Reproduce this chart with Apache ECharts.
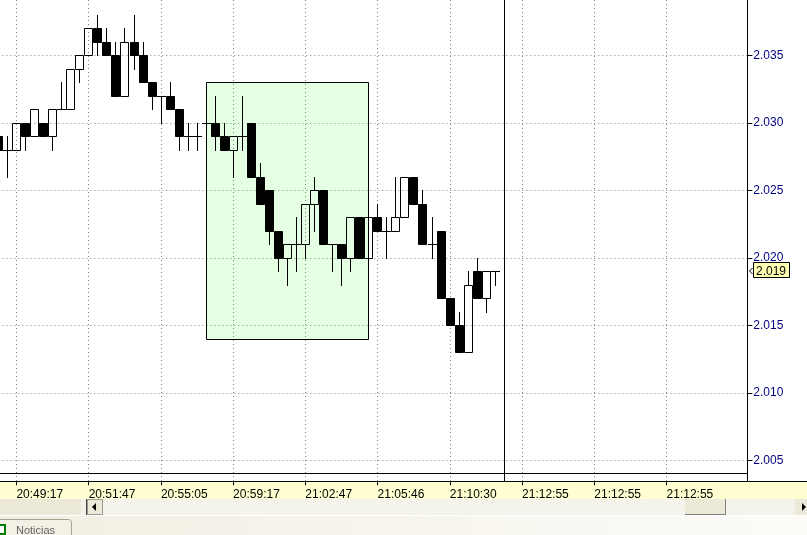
<!DOCTYPE html>
<html><head><meta charset="utf-8">
<style>html,body{margin:0;padding:0;background:#fff}#c{width:807px;height:535px}</style>
<script src="https://cdn.jsdelivr.net/npm/echarts@6/dist/echarts.min.js"></script>
</head><body><div id="c"></div>
<script>
const tickLabels=['20:49:17','20:51:47','20:55:05','20:59:17','21:02:47','21:05:46','21:10:30','21:12:55','21:12:55','21:12:55'];
const opens =[2.029,2.028,2.028,2.030,2.029,2.030,2.029,2.031,2.031,2.034,2.035,2.037,2.036,2.035,2.032,2.036,2.035,2.033,2.032,2.032,2.031,2.029,2.029,2.030,2.030,2.029,2.028,2.029,2.030,2.026,2.025,2.022,2.020,2.021,2.021,2.024,2.025,2.021,2.021,2.020,2.023,2.020,2.023,2.022,2.022,2.023,2.026,2.024,2.021,2.022,2.017,2.015,2.013,2.019,2.017,2.019];
const closes=[2.028,2.028,2.030,2.029,2.031,2.029,2.031,2.031,2.034,2.035,2.037,2.036,2.035,2.032,2.036,2.035,2.033,2.032,2.032,2.031,2.029,2.029,2.029,2.030,2.029,2.028,2.029,2.029,2.026,2.024,2.022,2.020,2.021,2.021,2.024,2.025,2.021,2.021,2.020,2.023,2.020,2.023,2.022,2.022,2.023,2.026,2.024,2.021,2.021,2.017,2.015,2.013,2.018,2.017,2.019,2.019];
const lows  =[2.028,2.026,2.028,2.028,2.029,2.029,2.028,2.031,2.031,2.033,2.035,2.035,2.035,2.032,2.032,2.034,2.033,2.031,2.030,2.031,2.028,2.028,2.028,2.030,2.028,2.028,2.026,2.028,2.026,2.024,2.021,2.019,2.018,2.019,2.020,2.022,2.021,2.019,2.018,2.019,2.020,2.020,2.022,2.020,2.022,2.023,2.024,2.021,2.020,2.017,2.015,2.013,2.013,2.017,2.016,2.018];
const highs =[2.029,2.029,2.030,2.030,2.031,2.030,2.031,2.033,2.034,2.035,2.037,2.038,2.037,2.036,2.037,2.038,2.036,2.033,2.032,2.033,2.031,2.030,2.030,2.030,2.032,2.030,2.029,2.032,2.030,2.027,2.025,2.022,2.021,2.023,2.024,2.026,2.025,2.021,2.021,2.023,2.023,2.023,2.024,2.023,2.026,2.026,2.026,2.025,2.023,2.022,2.017,2.016,2.019,2.020,2.019,2.019];
const priceTicks=[2.005,2.010,2.015,2.020,2.025,2.030,2.035];
const boxFrom=23, boxTo=41, boxTop=2.033, boxBottom=2.014, cursorBar=56, slotCount=84, firstTick=2, tickStep=8;
const categories=[];
for(let i=0;i<slotCount;i++){
  const k=(i-firstTick)/tickStep;
  categories.push(Number.isInteger(k)&&k>=0&&k<tickLabels.length?tickLabels[k]:'');
}
const isTick=i=>categories[i]!=='';
const rows=opens.map((o,i)=>[i,o,closes[i],lows[i],highs[i]]);
const UI='"Liberation Sans",Arial,sans-serif';
const snapX=v=>Math.floor(v+0.22)+0.5;
const snapY=v=>Math.floor(v+0.02)+0.5;
const ink={stroke:'#000',lineWidth:1};
function renderCandle(params,api){
 const i=api.value(0),o=api.value(1),c=api.value(2),l=api.value(3),h=api.value(4);
 const x=snapX(api.coord([i,o])[0]);
 const yOf=v=>snapY(api.coord([i,v])[1]);
 const top=yOf(Math.max(o,c)),bot=yOf(Math.min(o,c)),yl=yOf(l),yh=yOf(h);
 const kids=[];
 if(yh<top)kids.push({type:'line',shape:{x1:x,y1:yh-.5,x2:x,y2:top},style:ink});
 if(yl>bot)kids.push({type:'line',shape:{x1:x,y1:bot,x2:x,y2:yl+.5},style:ink});
 if(o===c)kids.push({type:'line',shape:{x1:x-4.5,y1:top,x2:x+4.5,y2:top},style:ink});
 else kids.push({type:'rect',shape:{x:x-4,y:top,width:8,height:bot-top},style:{stroke:'#000',lineWidth:1,fill:c<o?'#000':'rgba(0,0,0,0)'}});
 return {type:'group',children:kids};
}
function renderBox(params,api){
 const a=api.coord([api.value(0),api.value(1)]),b=api.coord([api.value(2),api.value(3)]);
 const x=snapX(a[0]),y=snapY(a[1]);
 return {type:'rect',shape:{x:x,y:y,width:snapX(b[0])-x,height:snapY(b[1])-y},style:{fill:'rgba(0,255,0,0.106)',stroke:'#000',lineWidth:1}};
}
function renderCursor(params,api){
 const x=snapX(api.coord([api.value(0),2.02])[0]);
 const s=params.coordSys;
 return {type:'line',shape:{x1:x,y1:s.y,x2:x,y2:s.y+s.height},style:ink};
}
const chart=echarts.init(document.getElementById('c'),null,{renderer:'canvas'});
const dotted={color:'#808080',width:1,type:[1,3]};
const chrome=[
 {type:'rect',z:-1,shape:{x:0,y:481,width:807,height:18},style:{fill:'#FFFFD2'}},
 {type:'rect',z:3,shape:{x:0,y:481,width:807,height:1},style:{fill:'#000'}},
 {type:'rect',z:3,shape:{x:0,y:473,width:747,height:1},style:{fill:'#000'}},
 {type:'rect',z:-1,shape:{x:0,y:499,width:88,height:16},style:{fill:'#ECE9D8'}},
 {type:'rect',z:-1,shape:{x:88,y:499,width:719,height:16},style:{fill:'#F5F4EC'}},
 {type:'rect',z:-1,shape:{x:81,y:499,width:6,height:16},style:{fill:'#F4F2E6'}},
 {type:'rect',z:-1,shape:{x:86,y:499,width:1,height:16},style:{fill:'#404040'}},
 {type:'rect',z:-1,shape:{x:87.5,y:499.5,width:15,height:15},style:{fill:'#ECE9D8',stroke:'#9a9a90',lineWidth:1}},
 {type:'polygon',z:-1,shape:{points:[[92,507],[96,503],[96,511]]},style:{fill:'#000'}},
 {type:'rect',z:-1,shape:{x:685,y:499,width:40,height:16},style:{fill:'#ECE9D8'}},
 {type:'rect',z:-1,shape:{x:685,y:514,width:41,height:1},style:{fill:'#808080'}},
 {type:'rect',z:-1,shape:{x:725,y:499,width:1,height:16},style:{fill:'#808080'}},
 {type:'rect',z:-1,shape:{x:795,y:499,width:12,height:16},style:{fill:'#ECE9D8'}},
 {type:'polygon',z:-1,shape:{points:[[806,507],[802,503],[802,511]]},style:{fill:'#000'}},
 {type:'rect',z:-1,shape:{x:0,y:516,width:807,height:19},style:{fill:new echarts.graphic.LinearGradient(0,0,1,0,[{offset:0,color:'#F1EFE2'},{offset:1,color:'#FCFBF8'}])}},
 {type:'rect',z:-1,shape:{x:0,y:515,width:807,height:1},style:{fill:'#fff'}},
 {type:'rect',z:-1,shape:{x:-6.5,y:519.5,width:78,height:24,r:3},style:{fill:'#F3F1E6',stroke:'#A5A396',lineWidth:1}},
 {type:'rect',z:0,shape:{x:-3,y:525,width:8,height:9},style:{fill:'#fff',stroke:'#008000',lineWidth:2}},
 {type:'text',z:0,x:16,y:525,style:{text:'Noticias',font:'11px '+UI,fill:'#666'}}
];
chart.setOption({
 animation:false,backgroundColor:'#fff',
 grid:{left:-1.66,top:0,width:749.49,height:481.25,containLabel:false,outerBoundsMode:'none'},
 xAxis:{type:'category',data:categories,boundaryGap:false,
  axisLine:{show:true,lineStyle:{color:'#000',width:1}},
  axisTick:{show:true,interval:isTick,length:4,lineStyle:{color:'#000'},alignWithLabel:true},
  axisLabel:{show:true,interval:isTick,align:'left',margin:7,color:'#000',fontFamily:UI,fontSize:12,hideOverlap:false},
  splitLine:{show:true,interval:isTick,lineStyle:dotted}},
 yAxis:{type:'value',position:'right',offset:-0.5,min:2.003463,max:2.039111,scale:true,
  axisLine:{show:true,lineStyle:{color:'#000',width:1}},
  axisTick:{show:true,length:5,customValues:priceTicks,lineStyle:{color:'#000'}},
  axisLabel:{show:true,customValues:priceTicks,margin:6,color:'#000080',fontFamily:UI,fontSize:12,formatter:v=>v.toFixed(3)},
  splitLine:{show:true,lineStyle:dotted}},
 series:[
  {type:'custom',name:'box',z:1,clip:false,silent:true,encode:{x:[0,2],y:[1,3]},data:[[boxFrom,boxTop,boxTo,boxBottom]],renderItem:renderBox},
  {type:'custom',name:'candles',z:2,clip:false,silent:true,encode:{x:0,y:[1,2,3,4]},data:rows,renderItem:renderCandle},
  {type:'custom',name:'cursor',z:3,clip:false,silent:true,encode:{x:0},data:[[cursorBar]],renderItem:renderCursor}
 ],
 graphic:chrome
});
const lastClose=closes[closes.length-1];
const lastY=Math.round(chart.convertToPixel({yAxisIndex:0},lastClose));
chart.setOption({graphic:chrome.concat([
 {type:'rect',z:5,shape:{x:753.5,y:lastY-8.5,width:36,height:15},style:{fill:'#FFFFB4',stroke:'#000',lineWidth:1}},
 {type:'text',z:6,x:756,y:lastY-5,style:{text:lastClose.toFixed(3),font:'12px '+UI,fill:'#000'}},
 {type:'polyline',z:5,shape:{points:[[752.5,lastY-3],[749.5,lastY],[752.5,lastY+3]]},style:{stroke:'#000',fill:'none',lineWidth:1}}
])});
</script></body></html>
